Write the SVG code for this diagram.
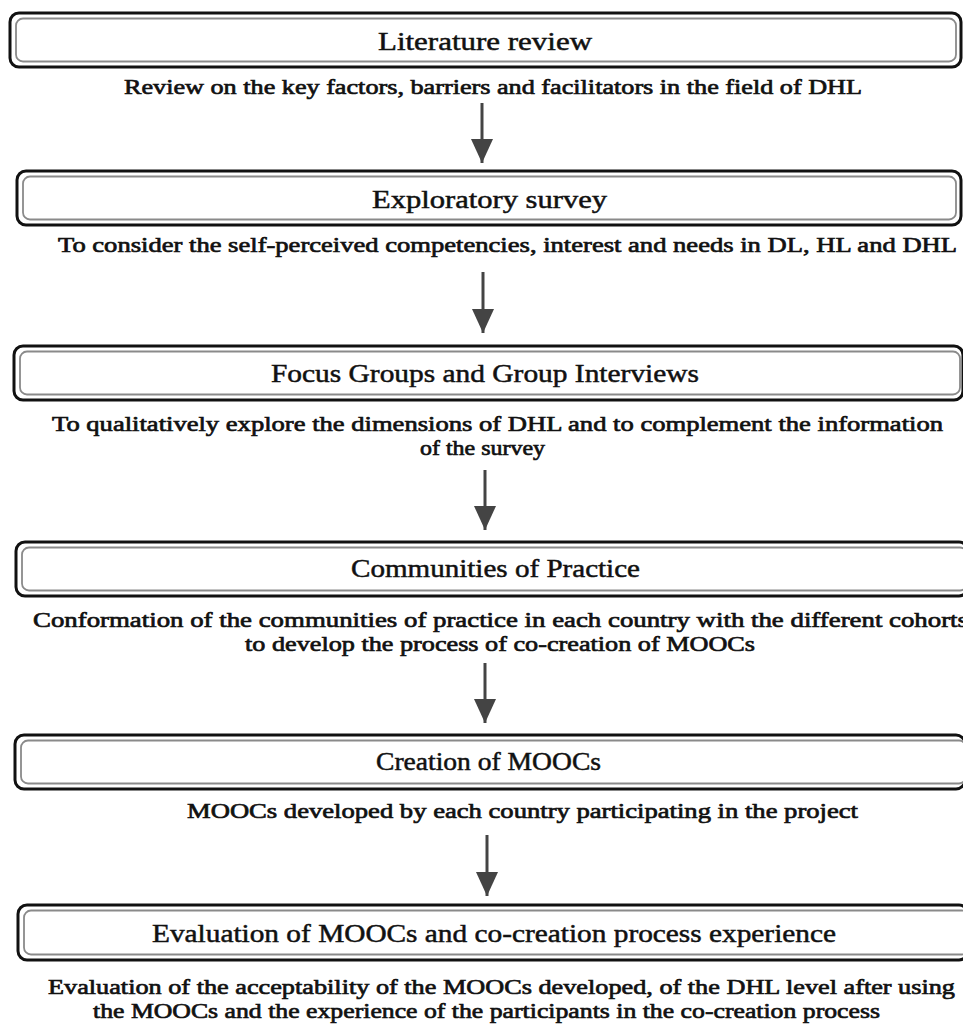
<svg xmlns="http://www.w3.org/2000/svg" width="963" height="1027" viewBox="0 0 963 1027">
<style>
.outer{fill:#fff;stroke:#111;stroke-width:3}
.inner{fill:none;stroke:#8a8a8a;stroke-width:1.8}
.title{font-family:"Liberation Serif",serif;font-size:26px;fill:#111;stroke:#111;stroke-width:0.5}
.desc{font-family:"Liberation Serif",serif;font-size:22px;fill:#111;stroke:#111;stroke-width:0.7}
.arrow{stroke:#444;stroke-width:3;fill:none}
</style>
<defs>
<marker id="ah" markerUnits="userSpaceOnUse" markerWidth="26" markerHeight="22" refX="24" refY="11" orient="auto">
<path d="M0,0 L24,11 L0,22 Z" fill="#444"/>
</marker>
</defs>
<rect width="963" height="1027" fill="#fff"/>
<g id="connectors">
<line class="arrow" x1="482" y1="103" x2="482" y2="163" marker-end="url(#ah)"/>
<line class="arrow" x1="483" y1="272" x2="483" y2="333" marker-end="url(#ah)"/>
<line class="arrow" x1="485" y1="470" x2="485" y2="530" marker-end="url(#ah)"/>
<line class="arrow" x1="485" y1="663" x2="485" y2="723" marker-end="url(#ah)"/>
<line class="arrow" x1="487" y1="835" x2="487" y2="896" marker-end="url(#ah)"/>
</g>
<g id="node1">
<rect class="outer" x="10" y="13" width="951" height="54" rx="9"/>
<rect class="inner" x="16" y="18.5" width="940" height="43" rx="7"/>
<text class="title" x="378" y="50" textLength="214" lengthAdjust="spacingAndGlyphs">Literature review</text>
<text class="desc" x="124" y="94" textLength="738" lengthAdjust="spacingAndGlyphs">Review on the key factors, barriers and facilitators in the field of DHL</text>
</g>
<g id="node2">
<rect class="outer" x="17" y="171" width="944" height="54" rx="9"/>
<rect class="inner" x="23" y="176.5" width="933" height="43" rx="7"/>
<text class="title" x="372" y="208" textLength="235" lengthAdjust="spacingAndGlyphs">Exploratory survey</text>
<text class="desc" x="58" y="252" textLength="899" lengthAdjust="spacingAndGlyphs">To consider the self-perceived competencies, interest and needs in DL, HL and DHL</text>
</g>
<g id="node3">
<rect class="outer" x="14" y="346" width="949" height="54" rx="9"/>
<rect class="inner" x="20" y="351.5" width="940" height="43" rx="7"/>
<text class="title" x="271" y="382" textLength="428" lengthAdjust="spacingAndGlyphs">Focus Groups and Group Interviews</text>
<text class="desc" x="52" y="431" textLength="891" lengthAdjust="spacingAndGlyphs">To qualitatively explore the dimensions of DHL and to complement the information</text>
<text class="desc" x="420" y="455" textLength="125" lengthAdjust="spacingAndGlyphs">of the survey</text>
</g>
<g id="node4">
<rect class="outer" x="16" y="542" width="952" height="54" rx="9"/>
<rect class="inner" x="22" y="547.5" width="945" height="43" rx="7"/>
<text class="title" x="351" y="577" textLength="289" lengthAdjust="spacingAndGlyphs">Communities of Practice</text>
<text class="desc" x="33" y="627" textLength="935" lengthAdjust="spacingAndGlyphs">Conformation of the communities of practice in each country with the different cohorts</text>
<text class="desc" x="245" y="651" textLength="510" lengthAdjust="spacingAndGlyphs">to develop the process of co-creation of MOOCs</text>
</g>
<g id="node5">
<rect class="outer" x="15" y="735" width="950" height="54" rx="9"/>
<rect class="inner" x="21" y="740.5" width="945" height="43" rx="7"/>
<text class="title" x="376" y="770" textLength="225" lengthAdjust="spacingAndGlyphs">Creation of MOOCs</text>
<text class="desc" x="187" y="818" textLength="671" lengthAdjust="spacingAndGlyphs">MOOCs developed by each country participating in the project</text>
</g>
<g id="node6">
<rect class="outer" x="18" y="905" width="950" height="55" rx="9"/>
<rect class="inner" x="24" y="910.5" width="945" height="44" rx="7"/>
<text class="title" x="152" y="942" textLength="684" lengthAdjust="spacingAndGlyphs">Evaluation of MOOCs and co-creation process experience</text>
<text class="desc" x="48" y="994" textLength="907" lengthAdjust="spacingAndGlyphs">Evaluation of the acceptability of the MOOCs developed, of the DHL level after using</text>
<text class="desc" x="93" y="1018" textLength="787" lengthAdjust="spacingAndGlyphs">the MOOCs and the experience of the participants in the co-creation process</text>
</g>
</svg>
